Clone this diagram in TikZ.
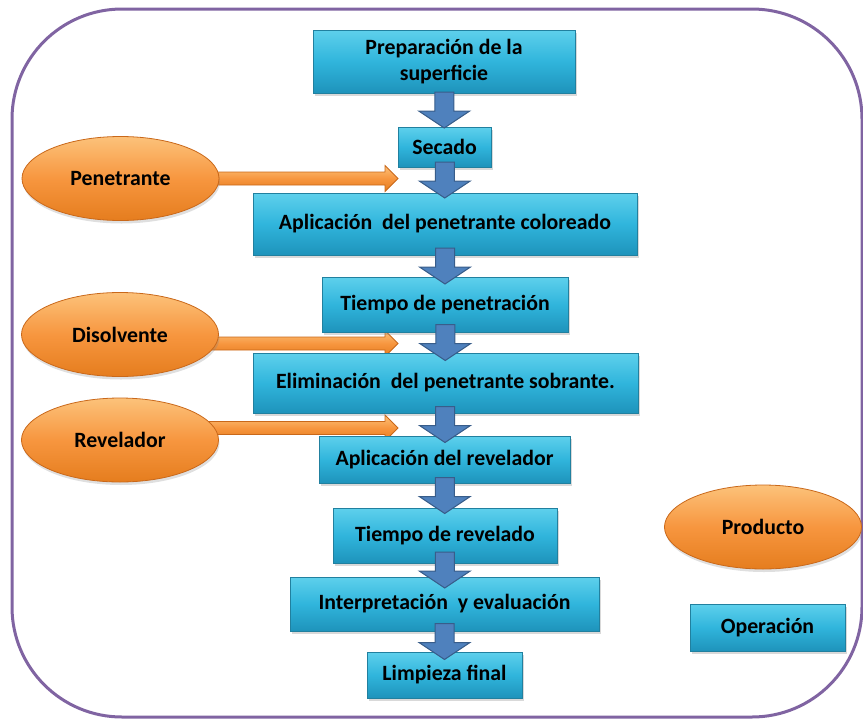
\documentclass[tikz,border=0pt]{standalone}
\usepackage{fontspec}
\setmainfont{Carlito}
\usepackage{xcolor}
\definecolor{marco}{HTML}{8064A2}
\definecolor{cianclaro}{HTML}{5ED0EC}
\definecolor{cian}{HTML}{30B5DC}
\definecolor{cianoscuro}{HTML}{1E93BB}
\definecolor{cianborde}{HTML}{21809F}
\definecolor{azul}{HTML}{4F81BD}
\definecolor{azulborde}{HTML}{385D8A}
\definecolor{naranjaclaro}{HTML}{FCC27A}
\definecolor{naranja}{HTML}{F7963F}
\definecolor{naranjaoscuro}{HTML}{E57D1E}
\definecolor{naranjaborde}{HTML}{C9681A}
\usetikzlibrary{calc,shadows,backgrounds,shapes.geometric}

% flecha azul entre dos operaciones
\newcommand{\bajada}[2]{%
  \path[flechaazul] let \p1=($(#1.south)!0.5!(#2.north)$) in
    (\x1-9.5pt,\y1+18pt) -- (\x1+9.5pt,\y1+18pt) -- (\x1+9.5pt,\y1-1pt) -- (\x1+25.5pt,\y1-1pt)
    -- (\x1,\y1-18pt) -- (\x1-25.5pt,\y1-1pt) -- (\x1-9.5pt,\y1-1pt) -- cycle;}
% flecha naranja desde un producto
\newcommand{\aporte}[2]{%
  \path[flechanaranja] let \p1=(#1.center), \p2=(#2) in
    (\x1,\y2+6.5pt) -- (\x2-13pt,\y2+6.5pt) -- (\x2-13pt,\y2+13pt) -- (\x2,\y2)
    -- (\x2-13pt,\y2-13pt) -- (\x2-13pt,\y2-6.5pt) -- (\x1,\y2-6.5pt) -- cycle;}

\begin{document}
\begin{tikzpicture}[
    x=1pt, y=-1pt,
    op/.style={draw=cianborde, line width=0.8pt, top color=cianclaro, bottom color=cianoscuro, middle color=cian,
      inner sep=0pt, align=center, text=black, font=\fontsize{21.8}{26}\selectfont\bfseries,
      drop shadow={opacity=0.3, shadow xshift=2pt, shadow yshift=-3pt}},
    prod/.style={ellipse, draw=naranjaborde, line width=0.8pt, top color=naranjaclaro, bottom color=naranjaoscuro, middle color=naranja,
      inner sep=0pt, minimum width=197pt, minimum height=84pt, text=black, font=\fontsize{21.8}{26}\selectfont\bfseries,
      drop shadow={opacity=0.25, shadow xshift=1pt, shadow yshift=-3pt}},
    flechaazul/.style={draw=azulborde, line width=1pt, fill=azul, line join=miter},
    flechanaranja/.style={draw=naranjaborde, line width=0.8pt, top color=naranjaclaro, bottom color=naranjaoscuro, middle color=naranja}
]
\useasboundingbox (0,0) rectangle (863,721);

% Marco
\draw[marco, line width=3pt, rounded corners=110pt] (12,9) rectangle (862,717);

% Operaciones
\node[op, minimum width=262pt, minimum height=63pt] (prep) at (444,61.5) {Preparación de la\\superficie};
\node[op, minimum width=93pt, minimum height=40pt] (sec) at (444.5,147) {Secado};
\node[op, minimum width=384pt, minimum height=62pt] (apl) at (445,224) {Aplicación\ \ del penetrante coloreado};
\node[op, minimum width=246pt, minimum height=55pt] (tpen) at (445,304.5) {Tiempo de penetración};
\node[op, minimum width=385pt, minimum height=60pt] (elim) at (445.5,383) {Eliminación\ \ del penetrante sobrante.};
\node[op, minimum width=251pt, minimum height=47pt] (arev) at (444.5,459.5) {Aplicación del revelador};
\node[op, minimum width=224pt, minimum height=55pt] (trev) at (445,535.5) {Tiempo de revelado};
\node[op, minimum width=309pt, minimum height=54pt] (interp) at (444.5,604) {Interpretación\ \ y evaluación};
\node[op, minimum width=155pt, minimum height=46pt] (limp) at (444.5,675) {Limpieza final};

% Productos
\node[prod] (pen) at (120.5,178.5) {Penetrante};
\node[prod] (dis) at (120,334.5) {Disolvente};
\node[prod] (rev) at (120,440) {Revelador};

% Leyenda
\node[prod] (leyprod) at (763,527) {Producto};
\node[op, minimum width=155pt, minimum height=47pt] (leyop) at (767.5,627.5) {Operación};

% Flechas
\bajada{prep}{sec}
\bajada{sec}{apl}
\bajada{apl}{tpen}
\bajada{tpen}{elim}
\bajada{elim}{arev}
\bajada{arev}{trev}
\bajada{trev}{interp}
\bajada{interp}{limp}

\coordinate (penfin) at (398,178.5);
\coordinate (disfin) at (398,343.5);
\coordinate (revfin) at (398,428);
\begin{pgfonlayer}{background}
\aporte{pen}{penfin}
\aporte{dis}{disfin}
\aporte{rev}{revfin}
\end{pgfonlayer}

\end{tikzpicture}
\end{document}
